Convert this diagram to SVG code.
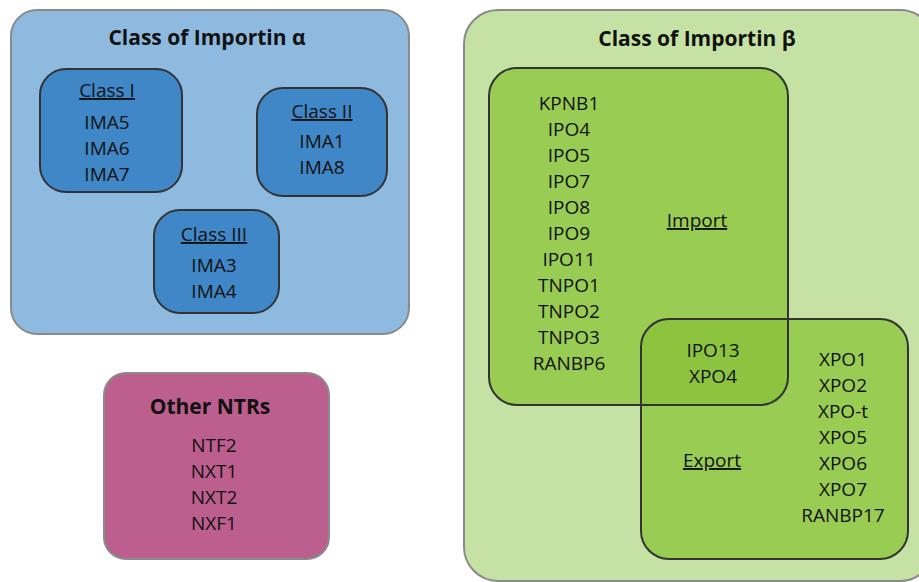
<svg xmlns="http://www.w3.org/2000/svg" width="919" height="582" viewBox="0 0 919 582">
<style>
text{font-family:"Open Sans","Liberation Sans",sans-serif;font-size:19px;fill:#111;text-anchor:middle}
.t{font-weight:bold;font-size:21px}
.u{text-decoration:underline}
.outer{stroke:#8a8a8a;stroke-width:2}
.inner{stroke:#333;stroke-width:2}
.g{fill:#99cc53}
</style>
<defs>
<clipPath id="impClip"><rect x="489" y="68" width="299" height="337" rx="28"/></clipPath>
</defs>
<rect width="919" height="582" fill="#fff"/>
<g id="alpha">
<rect class="outer" x="11" y="10" width="398" height="324" rx="26" fill="#8fbadf"/>
<text class="t" x="207" y="45">Class of Importin α</text>
</g>
<g id="class1">
<rect class="inner" x="40" y="69" width="142" height="123" rx="26" fill="#3f87c7"/>
<text class="u" x="107" y="97">Class I</text>
<text x="107" y="129">IMA5</text><text x="107" y="155">IMA6</text><text x="107" y="181">IMA7</text>
</g>
<g id="class2">
<rect class="inner" x="257" y="88" width="130" height="108" rx="26" fill="#3f87c7"/>
<text class="u" x="322" y="118">Class II</text>
<text x="322" y="148">IMA1</text><text x="322" y="174">IMA8</text>
</g>
<g id="class3">
<rect class="inner" x="154" y="210" width="125" height="103" rx="26" fill="#3f87c7"/>
<text class="u" x="214" y="241">Class III</text>
<text x="214" y="272">IMA3</text><text x="214" y="298">IMA4</text>
</g>
<g id="other">
<rect class="outer" x="104" y="373" width="225" height="186" rx="22" fill="#bc5f8f"/>
<text class="t" x="210" y="414">Other NTRs</text>
<text x="214" y="452">NTF2</text><text x="214" y="478">NXT1</text><text x="214" y="504">NXT2</text><text x="214" y="530">NXF1</text>
</g>
<g id="beta">
<rect class="outer" x="464" y="10" width="470" height="571" rx="34" fill="#c5e2a4"/>
<text class="t" x="697" y="46">Class of Importin β</text>
</g>
<g id="import">
<rect class="g" x="489" y="68" width="299" height="337" rx="28"/>
</g>
<g id="export">
<rect class="g" x="641" y="319" width="267" height="240" rx="28"/>
<rect x="641" y="319" width="267" height="240" rx="28" fill="#8cc43f" clip-path="url(#impClip)"/>
<rect class="inner" x="641" y="319" width="267" height="240" rx="28" fill="none"/>
</g>
<g id="import-border">
<rect class="inner" x="489" y="68" width="299" height="337" rx="28" fill="none"/>
</g>
<g id="import-labels">
<text x="569" y="110">KPNB1</text><text x="569" y="136">IPO4</text><text x="569" y="162">IPO5</text><text x="569" y="188">IPO7</text><text x="569" y="214">IPO8</text><text x="569" y="240">IPO9</text><text x="569" y="266">IPO11</text><text x="569" y="292">TNPO1</text><text x="569" y="318">TNPO2</text><text x="569" y="344">TNPO3</text><text x="569" y="370">RANBP6</text>
<text class="u" x="697" y="227">Import</text>
</g>
<g id="overlap-labels">
<text x="713" y="357">IPO13</text><text x="713" y="383">XPO4</text>
</g>
<g id="export-labels">
<text x="843" y="366">XPO1</text><text x="843" y="392">XPO2</text><text x="843" y="418">XPO-t</text><text x="843" y="444">XPO5</text><text x="843" y="470">XPO6</text><text x="843" y="496">XPO7</text><text x="843" y="522">RANBP17</text>
<text class="u" x="712" y="467">Export</text>
</g>
<g id="connectors"/>
</svg>
